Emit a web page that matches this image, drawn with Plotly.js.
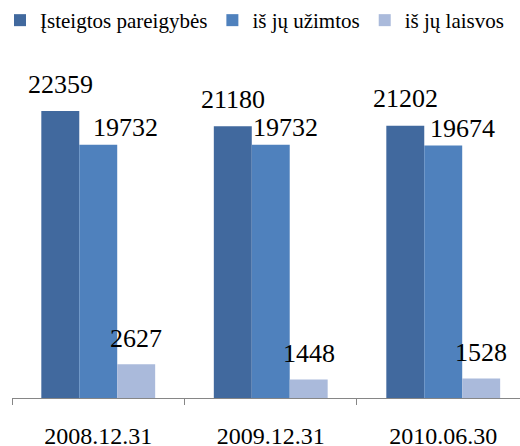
<!DOCTYPE html>
<html>
<head>
<meta charset="utf-8">
<script src="https://cdn.plot.ly/plotly-3.0.1.min.js"></script>
<style>html,body{margin:0;padding:0;background:#fff;}#chart{width:520px;height:446px;}</style>
</head>
<body>
<div id="chart"></div>
<script>
var categories = ["2008.12.31", "2009.12.31", "2010.06.30"];
var seriesNames = ["Įsteigtos pareigybės", "iš jų užimtos", "iš jų laisvos"];
var established = [22359, 21180, 21202];
var occupied = [19732, 19732, 19674];
var vacant = [2627, 1448, 1528];

var seriesValues = [established, occupied, vacant];
var colors = ["#41699E", "#4F81BD", "#AABADB"];
var FONT = "Liberation Serif";

var traces = seriesValues.map(function (vals, s) {
  return {
    type: "bar",
    name: seriesNames[s],
    x: categories,
    y: vals,
    marker: { color: colors[s] },
    hoverinfo: "skip"
  };
});

// label placement styling (pixel offsets)
var barOffset = [-0.22, 0, 0.22];
var labelYShift = [27, 17, 26];
var midLabelXShift = [27, 15, 19];

var annotations = [];
seriesValues.forEach(function (vals, s) {
  vals.forEach(function (v, i) {
    annotations.push({
      xref: "x", yref: "y",
      x: i + barOffset[s], y: v,
      text: String(v),
      showarrow: false,
      xanchor: "center", yanchor: "middle",
      xshift: s === 1 ? midLabelXShift[i] : 0,
      yshift: labelYShift[s],
      font: { family: FONT, size: 26, color: "#000" }
    });
  });
});

var layout = {
  width: 520, height: 446,
  margin: { l: 12, r: 0, t: 60, b: 48, autoexpand: false },
  paper_bgcolor: "#fff", plot_bgcolor: "#fff",
  barmode: "group", bargap: 0.34, bargroupgap: 0,
  font: { family: FONT, size: 24, color: "#000" },
  showlegend: true,
  legend: {
    orientation: "h", xref: "container", yref: "container",
    x: -0.01, y: 1, xanchor: "left", yanchor: "top",
    font: { family: FONT, size: 21, color: "#000" },
    bgcolor: "rgba(0,0,0,0)", itemwidth: 30, traceorder: "normal"
  },
  xaxis: {
    type: "category", range: [-0.5, 2.445],
    showline: true, linecolor: "#868686", linewidth: 1,
    ticks: "outside", tickson: "boundaries", ticklen: 6, tickcolor: "#868686",
    showgrid: false, zeroline: false,
    tickfont: { family: FONT, size: 24, color: "#000" },
    ticklabelstandoff: 16,
    fixedrange: true
  },
  yaxis: { visible: false, range: [0, 26332], showgrid: false, zeroline: false, fixedrange: true },
  annotations: annotations
};

Plotly.newPlot("chart", traces, layout, { displayModeBar: false, staticPlot: true });
</script>
</body>
</html>
